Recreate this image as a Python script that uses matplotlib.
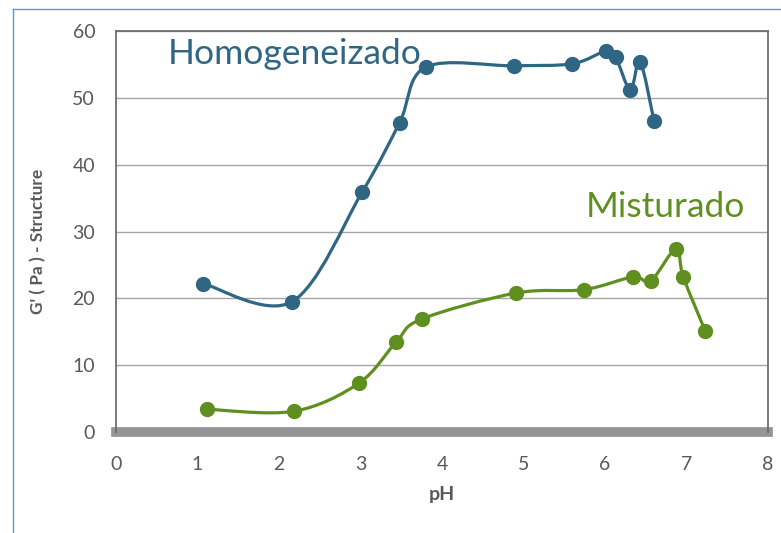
import numpy as np
import matplotlib.pyplot as plt
from matplotlib.path import Path
from matplotlib.patches import PathPatch

# valores
ph_homog = [1.07, 2.16, 3.02, 3.48, 3.80, 4.88, 5.60, 6.01, 6.13, 6.31, 6.43, 6.60]
g_homog = [22.2, 19.5, 35.9, 46.3, 54.6, 54.8, 55.1, 57.0, 56.1, 51.2, 55.4, 46.6]

ph_mist = [1.12, 2.18, 2.98, 3.44, 3.75, 4.91, 5.74, 6.34, 6.56, 6.87, 6.96, 7.23]
g_mist = [3.4, 3.1, 7.3, 13.5, 16.9, 20.8, 21.3, 23.2, 22.6, 27.4, 23.2, 15.1]

blue = '#2F6684'
green = '#5E8F1F'
gray_txt = '#595959'


def smooth_path(x, y):
    # linha suavizada estilo Excel (bezier com tensao 1/6)
    p = np.column_stack([x, y])
    n = len(p)
    verts = [p[0]]
    codes = [Path.MOVETO]
    for i in range(n - 1):
        p0 = p[max(i - 1, 0)]
        p1 = p[i]
        p2 = p[i + 1]
        p3 = p[min(i + 2, n - 1)]
        c1 = p1 + (p2 - p0) / 6
        c2 = p2 - (p3 - p1) / 6
        verts += [c1, c2, p2]
        codes += [Path.CURVE4] * 3
    return Path(verts, codes)


plt.rcParams['font.family'] = ['Lato', 'DejaVu Sans']

fig = plt.figure(figsize=(7.81, 5.33), dpi=100)
ax = fig.add_axes([0.1485, 0.1895, 0.8349, 0.7523])

for xs, ys, c in [(ph_homog, g_homog, blue), (ph_mist, g_mist, green)]:
    ax.add_patch(PathPatch(smooth_path(xs, ys), facecolor='none', edgecolor=c, lw=2.3, zorder=3))
    ax.plot(xs, ys, 'o', color=c, ms=10, zorder=4)

ax.set_xlim(0, 8)
ax.set_ylim(0, 60)
ax.set_xticks(range(0, 9))
ax.set_yticks(range(0, 61, 10))
ax.grid(axis='y', color='#A6A6A6', lw=1)
ax.set_axisbelow(True)
for s in ['left', 'top', 'right']:
    ax.spines[s].set_color('#6E6E6E')
    ax.spines[s].set_linewidth(1.3)
ax.spines['bottom'].set_visible(False)
ax.axhline(0, color='#939598', lw=7, zorder=2, clip_on=False)

ax.tick_params(length=0, labelsize=14, labelcolor=gray_txt)
ax.tick_params(axis='x', pad=17)
ax.tick_params(axis='y', pad=15)
ax.set_xlabel('pH', fontsize=14, fontweight='bold', color=gray_txt)
ax.xaxis.set_label_coords(0.5, -0.135)
ax.set_ylabel("G' ( Pa ) - Structure", fontsize=12.4, fontweight='bold', color=gray_txt)
ax.yaxis.set_label_coords(-0.107, 0.475)

ax.text(0.64, 56.6, 'Homogeneizado', fontsize=25.5, color=blue, va='center')
ax.text(5.76, 33.6, 'Misturado', fontsize=25.5, color=green, va='center')

# borda do quadro do gráfico
fig.add_artist(plt.Line2D([13 / 781, 13 / 781], [0, 1 - 9 / 533], color='#5B9BD5', lw=1))
fig.add_artist(plt.Line2D([13 / 781, 1], [1 - 9 / 533, 1 - 9 / 533], color='#5B9BD5', lw=1))

fig.savefig('out.png', dpi=100)
